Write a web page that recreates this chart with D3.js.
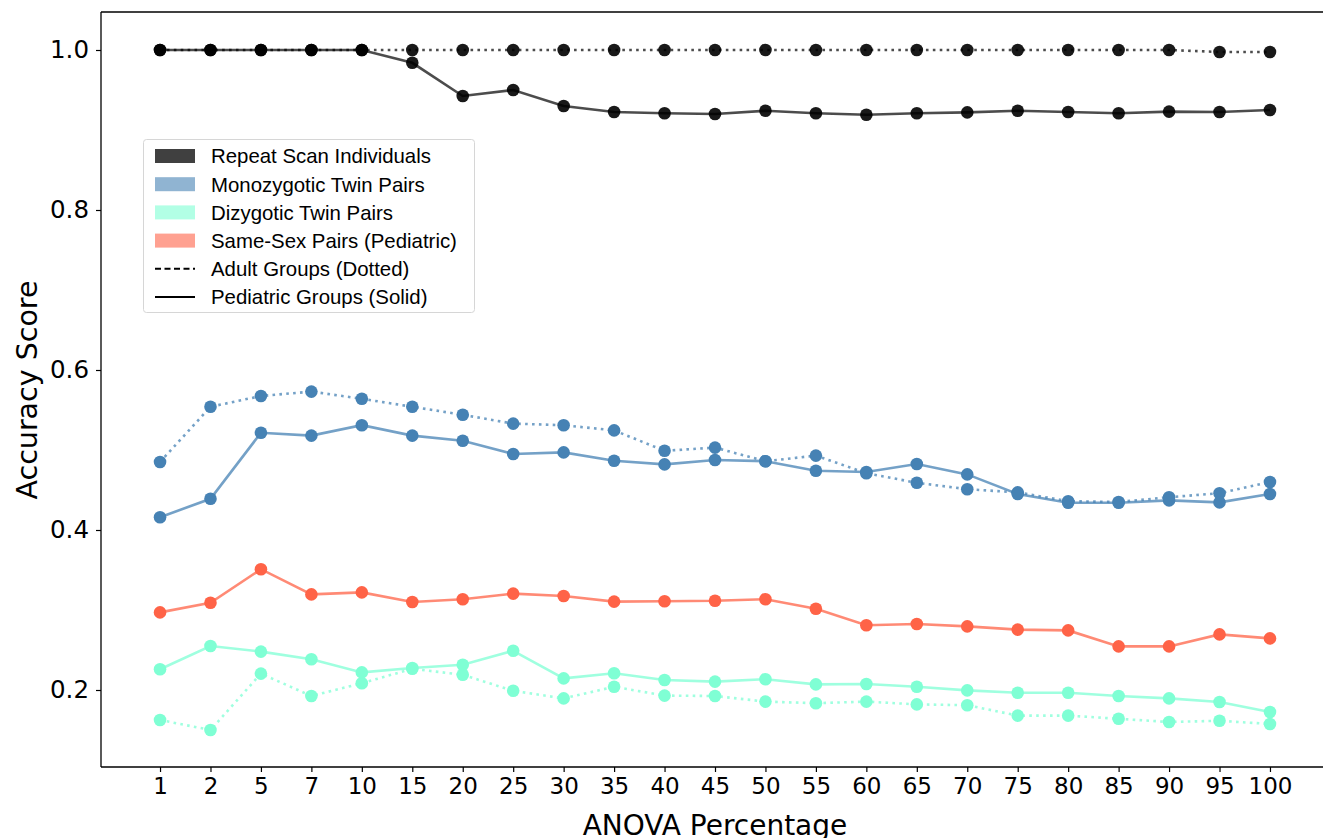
<!DOCTYPE html>
<html>
<head>
<meta charset="utf-8">
<script src="https://cdn.jsdelivr.net/npm/d3@7"></script>
<style>
  body { margin: 0; background: #fff; }
  svg { display: block; }
  .tick text { font-family: "DejaVu Sans", sans-serif; font-size: 23px; fill: #000; }
  .y-axis .tick text { font-size: 24.5px; }
  .tick line { stroke: #000; stroke-width: 1.2; }
</style>
</head>
<body>
<div id="chart"></div>
<script>
// anova percentages along the x axis
var percents = ["1","2","5","7","10","15","20","25","30","35","40","45","50","55","60","65","70","75","80","85","90","95","100"];
var yTicks = [0.2, 0.4, 0.6, 0.8, 1.0];

// repeat scan individuals
var repeatAdult = [1.0,1.0,1.0,1.0,1.0,1.0,1.0,1.0,1.0,1.0,1.0,1.0,1.0,1.0,1.0,1.0,1.0,1.0,1.0,1.0,1.0,0.9975,0.9975];
var repeatPed = [1.0,1.0,1.0,1.0,1.0,0.984,0.9425,0.95,0.93,0.9225,0.921,0.92,0.924,0.921,0.919,0.921,0.922,0.924,0.9225,0.921,0.923,0.9225,0.925];

// monozygotic twin pairs
var monoAdult = [0.485,0.554,0.5675,0.573,0.564,0.554,0.544,0.533,0.531,0.5245,0.499,0.503,0.486,0.493,0.471,0.459,0.451,0.447,0.436,0.435,0.441,0.446,0.46];
var monoPed = [0.416,0.439,0.5215,0.518,0.531,0.518,0.5115,0.495,0.497,0.4865,0.482,0.4875,0.486,0.474,0.4725,0.4825,0.4695,0.445,0.434,0.434,0.437,0.4345,0.445];

// dizygotic twin pairs
var diziAdult = [0.1625,0.15,0.2205,0.1925,0.2085,0.2265,0.219,0.199,0.1895,0.204,0.193,0.1925,0.1855,0.1835,0.1855,0.182,0.181,0.168,0.168,0.164,0.16,0.1615,0.1575];
var diziPed = [0.226,0.255,0.248,0.2385,0.222,0.2275,0.2315,0.249,0.2145,0.221,0.2125,0.2105,0.2135,0.207,0.2075,0.204,0.1995,0.1965,0.1965,0.1925,0.1895,0.185,0.1725];

// same-sex pairs (pediatric only)
var sameSexPed = [0.297,0.309,0.351,0.3195,0.322,0.31,0.3135,0.3205,0.3175,0.3105,0.311,0.3115,0.3135,0.3015,0.281,0.2825,0.2795,0.2755,0.2745,0.2545,0.2545,0.2695,0.2645];

var series = [
  { values: repeatAdult, color: "#000000", dotted: true },
  { values: repeatPed, color: "#000000", dotted: false },
  { values: monoAdult, color: "#4682b4", dotted: true },
  { values: monoPed, color: "#4682b4", dotted: false },
  { values: diziAdult, color: "#7fffd4", dotted: true },
  { values: diziPed, color: "#7fffd4", dotted: false },
  { values: sameSexPed, color: "#ff6347", dotted: false }
];

var legendItems = [
  { label: "Repeat Scan Individuals", color: "#000000", kind: "patch" },
  { label: "Monozygotic Twin Pairs", color: "#4682b4", kind: "patch" },
  { label: "Dizygotic Twin Pairs", color: "#7fffd4", kind: "patch" },
  { label: "Same-Sex Pairs (Pediatric)", color: "#ff6347", kind: "patch" },
  { label: "Adult Groups (Dotted)", color: "#000000", kind: "dash" },
  { label: "Pediatric Groups (Solid)", color: "#000000", kind: "solid" }
];

var W = 1323, H = 838;
var plotLeft = 101, plotTop = 12, plotBottom = 767, plotRight = 1329;

var svg = d3.select("#chart").append("svg")
    .attr("width", W)
    .attr("height", H);

var x = d3.scalePoint()
    .domain(percents)
    .range([plotLeft, plotRight])
    .padding(1.17);

var y = d3.scaleLinear()
    .domain([0.10375, 1.0475])
    .range([plotBottom, plotTop]);

// axes
var yAxis = svg.append("g")
    .attr("class", "y-axis")
    .attr("transform", "translate(" + plotLeft + ",0)")
    .call(d3.axisLeft(y).tickValues(yTicks).tickFormat(d3.format(".1f")).tickSize(5).tickPadding(7));
yAxis.select(".domain").remove();

var xAxis = svg.append("g")
    .attr("transform", "translate(0," + plotBottom + ")")
    .call(d3.axisBottom(x).tickSize(5).tickPadding(6));
xAxis.select(".domain").remove();

// spines
svg.append("line").attr("x1", plotLeft).attr("x2", plotLeft).attr("y1", plotTop).attr("y2", plotBottom)
    .attr("stroke", "#000").attr("stroke-width", 1.3);
svg.append("line").attr("x1", plotLeft).attr("x2", W).attr("y1", plotBottom).attr("y2", plotBottom)
    .attr("stroke", "#000").attr("stroke-width", 1.5);
svg.append("line").attr("x1", plotLeft).attr("x2", W).attr("y1", plotTop).attr("y2", plotTop)
    .attr("stroke", "#000").attr("stroke-width", 1.3);

// axis labels
svg.append("text")
    .attr("x", 715)
    .attr("y", 835)
    .attr("text-anchor", "middle")
    .style("font-family", "DejaVu Sans, sans-serif")
    .style("font-size", "28px")
    .text("ANOVA Percentage");

svg.append("text")
    .attr("transform", "translate(37,390) rotate(-90)")
    .attr("text-anchor", "middle")
    .style("font-family", "DejaVu Sans, sans-serif")
    .style("font-size", "28.5px")
    .text("Accuracy Score");

// lines and markers
var line = d3.line()
    .x(function(d, i) { return x(percents[i]); })
    .y(function(d) { return y(d); });

var plot = svg.append("g");

series.forEach(function(s) {
  plot.append("path")
      .datum(s.values)
      .attr("d", line)
      .attr("fill", "none")
      .attr("stroke", s.color)
      .attr("stroke-opacity", s.color == "#000000" ? 0.7 : 0.75)
      .attr("stroke-width", 2.6)
      .attr("stroke-dasharray", s.dotted ? "2.6,4.3" : null);

  plot.selectAll(null)
      .data(s.values)
    .enter().append("circle")
      .attr("cx", function(d, i) { return x(percents[i]); })
      .attr("cy", function(d) { return y(d); })
      .attr("r", 6.3)
      .attr("fill", s.color)
      .attr("fill-opacity", s.color == "#000000" ? 0.9 : 1);
});

// legend
var legend = svg.append("g").attr("transform", "translate(143,139)");
legend.append("rect")
    .attr("x", 0.5).attr("y", 0.5)
    .attr("width", 331).attr("height", 173)
    .attr("rx", 3)
    .attr("fill", "#fff").attr("fill-opacity", 0.85)
    .attr("stroke", "#d6d6d6");

legendItems.forEach(function(d, i) {
  var cy = 17 + i * 28.2;
  if (d.kind == "patch") {
    legend.append("rect")
        .attr("x", 12).attr("y", cy - 7)
        .attr("width", 40).attr("height", 14)
        .attr("fill", d.color).attr("fill-opacity", d.color == "#000000" ? 0.75 : 0.6);
  } else {
    legend.append("line")
        .attr("x1", 12).attr("x2", 52).attr("y1", cy).attr("y2", cy)
        .attr("stroke", d.color).attr("stroke-width", 2)
        .attr("stroke-dasharray", d.kind == "dash" ? "6,3.5" : null);
  }
  legend.append("text")
      .attr("x", 68).attr("y", cy)
      .attr("dy", "0.36em")
      .style("font-family", "Liberation Sans, Arial, sans-serif")
      .style("font-size", "20.4px")
      .text(d.label);
});
</script>
</body>
</html>
